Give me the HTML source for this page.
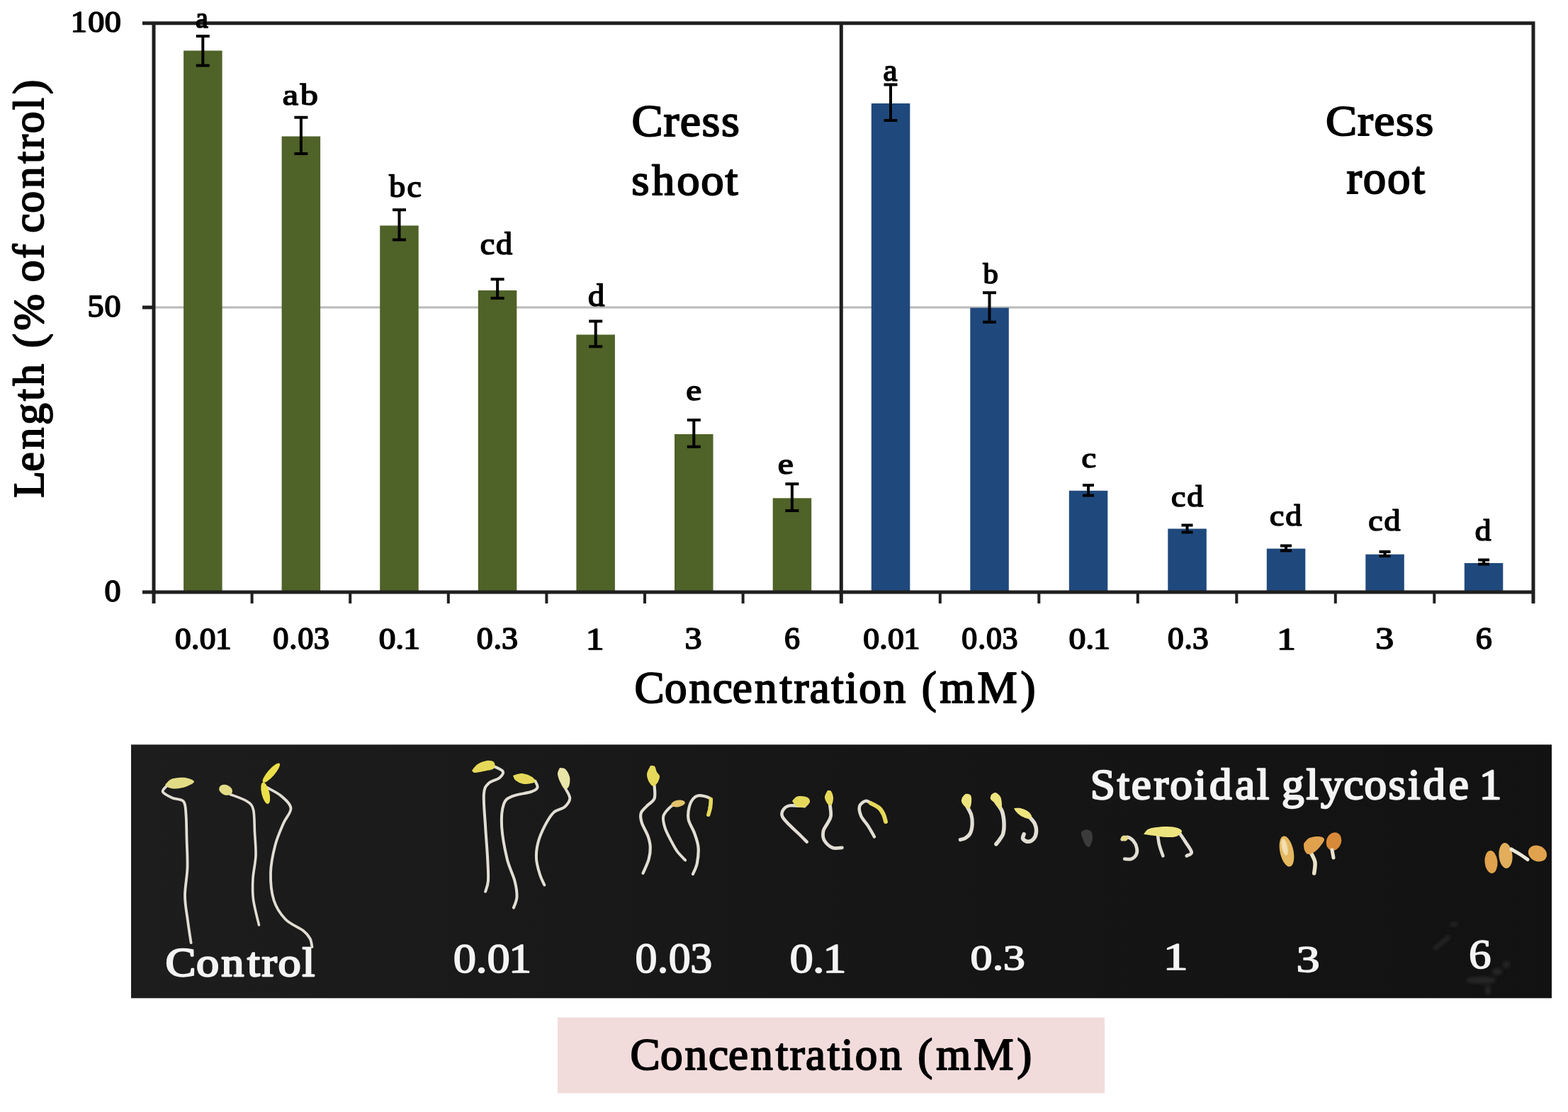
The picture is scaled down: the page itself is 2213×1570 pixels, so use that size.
<!DOCTYPE html>
<html><head><meta charset="utf-8"><title>Figure</title><style>html,body{margin:0;padding:0;background:#fff;overflow:hidden}svg{display:block}</style></head><body>
<svg width="2213" height="1570" viewBox="0 0 2213 1570"><rect width="2213" height="1570" fill="#fff"/><g font-family='"Liberation Serif", serif' font-weight="normal" font-size="100" stroke-linejoin="round"><line x1="217.0" y1="434" x2="2163" y2="434" stroke="#bababa" stroke-width="3"/>
<rect x="259.1" y="71.5" width="54.5" height="764.5" fill="#4F6228"/>
<rect x="397.6" y="192.5" width="54.5" height="643.5" fill="#4F6228"/>
<rect x="536.2" y="318.5" width="54.5" height="517.5" fill="#4F6228"/>
<rect x="674.8" y="410" width="54.5" height="426.0" fill="#4F6228"/>
<rect x="813.4" y="472.5" width="54.5" height="363.5" fill="#4F6228"/>
<rect x="952.0" y="613" width="54.5" height="223.0" fill="#4F6228"/>
<rect x="1090.7" y="703.3" width="54.5" height="132.70000000000005" fill="#4F6228"/>
<rect x="1229.8" y="146" width="54.5" height="690.0" fill="#1F497D"/>
<rect x="1369.3" y="434.6" width="54.5" height="401.4" fill="#1F497D"/>
<rect x="1508.8" y="692.8" width="54.5" height="143.20000000000005" fill="#1F497D"/>
<rect x="1648.3" y="746.5" width="54.5" height="89.5" fill="#1F497D"/>
<rect x="1787.8" y="774.6" width="54.5" height="61.39999999999998" fill="#1F497D"/>
<rect x="1927.3" y="782.7" width="54.5" height="53.299999999999955" fill="#1F497D"/>
<rect x="2066.8" y="795" width="54.5" height="41.0" fill="#1F497D"/>
<path d="M286.3 51 V92.5 M276.8 51 H295.8 M276.8 92.5 H295.8" stroke="#000" stroke-width="4" fill="none"/>
<path d="M424.9 165.8 V217 M415.4 165.8 H434.4 M415.4 217 H434.4" stroke="#000" stroke-width="4" fill="none"/>
<path d="M563.5 296.2 V338.6 M554.0 296.2 H573.0 M554.0 338.6 H573.0" stroke="#000" stroke-width="4" fill="none"/>
<path d="M702.1 394.3 V421 M692.6 394.3 H711.6 M692.6 421 H711.6" stroke="#000" stroke-width="4" fill="none"/>
<path d="M840.7 453.6 V489.3 M831.2 453.6 H850.2 M831.2 489.3 H850.2" stroke="#000" stroke-width="4" fill="none"/>
<path d="M979.3 593 V630.8 M969.8 593 H988.8 M969.8 630.8 H988.8" stroke="#000" stroke-width="4" fill="none"/>
<path d="M1117.9 683.2 V721 M1108.4 683.2 H1127.4 M1108.4 721 H1127.4" stroke="#000" stroke-width="4" fill="none"/>
<path d="M1257.0 119.5 V170 M1247.5 119.5 H1266.5 M1247.5 170 H1266.5" stroke="#000" stroke-width="4" fill="none"/>
<path d="M1396.5 413.2 V454.7 M1387.0 413.2 H1406.0 M1387.0 454.7 H1406.0" stroke="#000" stroke-width="4" fill="none"/>
<path d="M1536.0 685 V699.5 M1528.0 685 H1544.0 M1528.0 699.5 H1544.0" stroke="#000" stroke-width="4" fill="none"/>
<path d="M1675.5 741.5 V751.5 M1667.5 741.5 H1683.5 M1667.5 751.5 H1683.5" stroke="#000" stroke-width="4" fill="none"/>
<path d="M1815.0 770.5 V777.5 M1807.0 770.5 H1823.0 M1807.0 777.5 H1823.0" stroke="#000" stroke-width="4" fill="none"/>
<path d="M1954.5 779 V785 M1946.5 779 H1962.5 M1946.5 785 H1962.5" stroke="#000" stroke-width="4" fill="none"/>
<path d="M2094.1 790.5 V796.5 M2086.1 790.5 H2102.1 M2086.1 796.5 H2102.1" stroke="#000" stroke-width="4" fill="none"/>
<path d="M201 32.8 H2166.2 M217 30.6 V852 M1187.3 32.8 V852 M2164 30.6 V852 M201 836 H2166.2 M201 434 H217" stroke="#1f1f1f" stroke-width="5" fill="none"/>
<path d="M355.6 836 V852 M494.2 836 V852 M632.8 836 V852 M771.4 836 V852 M910.0 836 V852 M1048.6 836 V852 M1326.8 836 V852 M1466.3 836 V852 M1605.8 836 V852 M1745.3 836 V852 M1884.8 836 V852 M2024.3 836 V852 " stroke="#1f1f1f" stroke-width="4" fill="none"/>
<defs><linearGradient id="pg" x1="0" y1="0" x2="1" y2="0"><stop offset="0" stop-color="#1d1d1d"/><stop offset="0.45" stop-color="#171717"/><stop offset="1" stop-color="#121212"/></linearGradient></defs>
<rect x="185" y="1051.3" width="2005" height="358" fill="url(#pg)"/>
<defs><filter id="sb" x="-5%" y="-5%" width="110%" height="110%"><feGaussianBlur stdDeviation="0.7"/></filter><filter id="sm" x="-50%" y="-50%" width="200%" height="200%"><feGaussianBlur stdDeviation="2.5"/></filter></defs>
<g filter="url(#sb)">
<g fill="#3a3a3a" opacity="0.55" filter="url(#sm)">
<path d="M2022 1338 L2044 1320 L2048 1324 L2026 1342 Z"/>
<ellipse cx="2052" cy="1305" rx="6" ry="3"/>
<ellipse cx="2090" cy="1384" rx="22" ry="5"/>
<ellipse cx="2126" cy="1362" rx="5" ry="5"/>
<ellipse cx="2113" cy="1372" rx="7" ry="5"/>
<ellipse cx="2100" cy="1398" rx="4" ry="7"/>
</g>
<path d="M235.0 1110.0 C234.1 1111.3 228.5 1115.2 229.8 1118.0 C231.1 1120.8 238.1 1124.2 243.0 1126.5 C247.9 1128.8 255.8 1127.6 259.0 1131.5 C262.2 1135.4 261.8 1141.4 262.5 1150.0 C263.2 1158.6 263.2 1170.5 263.5 1183.0 C263.8 1195.5 264.9 1211.3 264.5 1225.0 C264.1 1238.7 260.9 1252.5 261.0 1265.0 C261.1 1277.5 263.6 1289.0 265.0 1300.0 C266.4 1311.0 268.8 1325.8 269.6 1331.0" fill="none" stroke="#e2ded4" stroke-width="3.8" stroke-linecap="round" stroke-linejoin="round"/>
<path d="M233.0 1108.0 C234.2 1106.8 237.5 1102.6 240.0 1101.0 C242.5 1099.4 244.3 1099.0 248.0 1098.5 C251.7 1098.0 257.7 1097.2 262.0 1098.0 C266.3 1098.8 273.8 1101.4 274.0 1103.5 C274.2 1105.6 267.3 1108.8 263.0 1110.5 C258.7 1112.2 252.2 1113.2 248.0 1113.5 C243.8 1113.8 240.5 1112.9 238.0 1112.0 C235.5 1111.1 233.8 1108.7 233.0 1108.0 Z" fill="#e3dc86"/>
<path d="M325.0 1121.5 C328.8 1123.1 342.6 1127.4 348.0 1131.0 C353.4 1134.6 355.6 1135.7 357.5 1143.0 C359.4 1150.3 358.9 1164.2 359.5 1175.0 C360.1 1185.8 361.4 1197.2 361.0 1208.0 C360.6 1218.8 357.6 1229.7 357.0 1240.0 C356.4 1250.3 356.1 1259.0 357.5 1270.0 C358.9 1281.0 364.2 1300.0 365.5 1306.0" fill="none" stroke="#e2ded4" stroke-width="3.6" stroke-linecap="round" stroke-linejoin="round"/>
<ellipse cx="318.6" cy="1115.3" rx="9.8" ry="7.1" transform="rotate(22 318.6 1115.3)" fill="#e3dc86"/>
<path d="M377.0 1112.0 C380.2 1113.9 390.9 1118.7 396.5 1123.5 C402.1 1128.3 409.9 1134.5 410.5 1141.0 C411.1 1147.5 403.7 1153.8 400.0 1162.5 C396.3 1171.2 391.5 1181.4 388.5 1193.0 C385.5 1204.6 382.3 1219.0 382.0 1232.0 C381.7 1245.0 383.0 1260.0 386.5 1271.0 C390.0 1282.0 396.1 1290.8 403.0 1298.0 C409.9 1305.2 422.2 1309.5 428.0 1314.0 C433.8 1318.5 435.4 1321.2 437.5 1325.0 C439.6 1328.8 440.0 1335.0 440.5 1337.0" fill="none" stroke="#e2ded4" stroke-width="3.8" stroke-linecap="round" stroke-linejoin="round"/>
<ellipse cx="382.8" cy="1091.2" rx="17.7" ry="5" transform="rotate(-49 382.8 1091.2)" fill="#ebe04a"/>
<ellipse cx="374.7" cy="1119.8" rx="15.6" ry="5.5" transform="rotate(76.5 374.7 1119.8)" fill="#ebe04a"/>
<path d="M695.8 1081.4 C698.1 1082.7 708.1 1086.2 709.6 1089.0 C711.1 1091.8 708.3 1095.4 705.0 1098.2 C701.7 1101.0 693.4 1102.0 689.7 1105.8 C686.0 1109.6 683.7 1110.9 682.9 1121.1 C682.1 1131.3 684.2 1151.7 685.1 1167.0 C686.0 1182.3 687.6 1200.1 688.2 1212.8 C688.9 1225.5 689.5 1235.8 689.0 1243.4 C688.5 1251.1 685.8 1256.2 685.1 1258.7" fill="none" stroke="#e2ded4" stroke-width="4" stroke-linecap="round" stroke-linejoin="round"/>
<path d="M666.0 1088.0 C667.3 1086.5 670.5 1081.3 674.0 1079.0 C677.5 1076.7 683.2 1074.5 687.0 1074.0 C690.8 1073.5 695.3 1074.2 697.0 1076.0 C698.7 1077.8 699.5 1082.8 697.0 1085.0 C694.5 1087.2 686.5 1088.0 682.0 1089.0 C677.5 1090.0 672.7 1091.2 670.0 1091.0 C667.3 1090.8 666.7 1088.5 666.0 1088.0 Z" fill="#e6d95a"/>
<path d="M755.4 1102.8 C755.9 1104.3 759.5 1109.5 758.5 1112.0 C757.5 1114.5 755.2 1116.0 749.3 1118.0 C743.4 1120.0 729.7 1121.4 723.3 1124.2 C716.9 1127.0 713.6 1127.8 711.1 1134.9 C708.6 1142.0 707.3 1154.0 708.1 1167.0 C708.9 1180.0 712.7 1200.1 715.7 1212.8 C718.8 1225.5 724.1 1234.5 726.4 1243.4 C728.7 1252.3 729.8 1259.9 729.5 1266.3 C729.2 1272.7 725.7 1279.0 724.9 1281.6" fill="none" stroke="#e2ded4" stroke-width="4" stroke-linecap="round" stroke-linejoin="round"/>
<path d="M724.0 1095.0 C726.2 1094.5 732.5 1091.7 737.0 1092.0 C741.5 1092.3 748.0 1095.0 751.0 1097.0 C754.0 1099.0 756.8 1102.3 755.0 1104.0 C753.2 1105.7 744.5 1107.3 740.0 1107.0 C735.5 1106.7 730.7 1104.0 728.0 1102.0 C725.3 1100.0 724.7 1096.2 724.0 1095.0 Z" fill="#e6d95a"/>
<path d="M798.2 1113.5 C799.2 1115.8 804.5 1122.9 804.3 1127.2 C804.0 1131.5 800.5 1136.2 796.7 1139.5 C792.9 1142.8 786.0 1142.8 781.4 1147.1 C776.8 1151.4 772.9 1158.3 769.2 1165.4 C765.5 1172.5 761.3 1182.0 759.3 1189.9 C757.3 1197.8 756.5 1205.2 757.0 1212.8 C757.5 1220.4 760.4 1229.6 762.3 1235.7 C764.2 1241.8 767.4 1247.2 768.4 1249.5" fill="none" stroke="#e2ded4" stroke-width="4" stroke-linecap="round" stroke-linejoin="round"/>
<path d="M790.0 1084.0 C791.3 1084.3 795.7 1083.8 798.0 1086.0 C800.3 1088.2 803.2 1093.0 804.0 1097.0 C804.8 1101.0 804.2 1107.2 803.0 1110.0 C801.8 1112.8 799.0 1114.8 797.0 1114.0 C795.0 1113.2 792.7 1108.5 791.0 1105.0 C789.3 1101.5 787.2 1096.5 787.0 1093.0 C786.8 1089.5 789.5 1085.5 790.0 1084.0 Z" fill="#e9e4a8"/>
<path d="M923.6 1109.0 C923.6 1112.0 925.3 1122.5 923.6 1127.3 C921.9 1132.1 916.4 1134.2 913.3 1137.7 C910.1 1141.2 906.0 1144.0 904.7 1148.0 C903.5 1152.0 904.2 1156.4 905.8 1161.7 C907.4 1167.0 912.4 1174.4 914.4 1180.1 C916.4 1185.8 917.6 1190.6 917.8 1196.1 C918.0 1201.6 917.3 1207.2 915.6 1213.3 C913.9 1219.4 908.9 1229.5 907.5 1232.8" fill="none" stroke="#e2ded4" stroke-width="4.2" stroke-linecap="round" stroke-linejoin="round"/>
<path d="M918.0 1081.0 C919.0 1081.2 922.5 1080.5 924.0 1082.0 C925.5 1083.5 925.8 1087.7 927.0 1090.0 C928.2 1092.3 930.8 1093.5 931.0 1096.0 C931.2 1098.5 929.5 1102.7 928.0 1105.0 C926.5 1107.3 924.0 1110.2 922.0 1110.0 C920.0 1109.8 917.5 1106.8 916.0 1104.0 C914.5 1101.2 912.7 1096.8 913.0 1093.0 C913.3 1089.2 917.2 1083.0 918.0 1081.0 Z" fill="#e6d95a"/>
<path d="M954.5 1133.0 C952.8 1134.3 947.2 1137.8 944.2 1141.1 C941.2 1144.4 937.2 1148.0 936.2 1152.6 C935.2 1157.2 936.8 1163.1 938.5 1168.6 C940.2 1174.1 943.6 1180.2 946.5 1185.8 C949.4 1191.3 952.2 1197.1 955.7 1201.9 C959.2 1206.7 965.3 1212.4 967.2 1214.5" fill="none" stroke="#e2ded4" stroke-width="4" stroke-linecap="round" stroke-linejoin="round"/>
<ellipse cx="957" cy="1134.5" rx="10" ry="4.8" transform="rotate(-10 957 1134.5)" fill="#e3c36a"/>
<path d="M978.0 1234.0 C979.0 1231.5 982.5 1225.4 983.8 1219.1 C985.0 1212.8 986.2 1203.4 985.5 1196.1 C984.8 1188.8 982.1 1182.0 979.8 1175.5 C977.5 1169.0 972.9 1163.3 971.7 1157.2 C970.6 1151.1 971.5 1144.0 972.9 1138.8 C974.2 1133.6 976.9 1128.8 979.8 1126.2 C982.7 1123.6 986.2 1122.9 990.1 1123.3 C994.0 1123.7 1001.4 1125.7 1003.3 1128.5 C1005.2 1131.3 1001.8 1138.1 1001.5 1140.0" fill="none" stroke="#e2ded4" stroke-width="4.2" stroke-linecap="round" stroke-linejoin="round"/>
<path d="M1003.3 1128.5 C1003.2 1130.4 1003.1 1136.4 1002.5 1140.0 C1001.9 1143.6 1000.2 1148.6 999.8 1150.3" fill="none" stroke="#e6d95a" stroke-width="5.5" stroke-linecap="round" stroke-linejoin="round"/>
<path d="M1135.5 1138.2 C1132.0 1138.1 1119.5 1136.5 1114.4 1137.4 C1109.3 1138.4 1106.7 1141.3 1105.0 1143.9 C1103.3 1146.5 1102.9 1149.7 1104.2 1152.9 C1105.5 1156.2 1109.1 1159.5 1112.8 1163.4 C1116.5 1167.3 1122.3 1172.3 1126.6 1176.5 C1130.9 1180.7 1136.8 1186.7 1138.8 1188.7" fill="none" stroke="#e2ded4" stroke-width="4.5" stroke-linecap="round" stroke-linejoin="round"/>
<path d="M1118.0 1131.0 C1119.0 1130.0 1121.8 1126.2 1124.0 1125.0 C1126.2 1123.8 1128.3 1123.8 1131.0 1124.0 C1133.7 1124.2 1138.0 1124.7 1140.0 1126.0 C1142.0 1127.3 1143.5 1129.8 1143.0 1132.0 C1142.5 1134.2 1140.0 1137.8 1137.0 1139.0 C1134.0 1140.2 1128.2 1140.3 1125.0 1139.0 C1121.8 1137.7 1119.2 1132.3 1118.0 1131.0 Z" fill="#e6d95a"/>
<path d="M1171.3 1135.8 C1171.5 1138.5 1173.3 1147.5 1172.6 1152.1 C1171.9 1156.7 1169.1 1159.9 1167.3 1163.4 C1165.5 1166.9 1162.7 1169.4 1162.0 1173.2 C1161.3 1177.0 1161.1 1182.3 1163.2 1186.2 C1165.3 1190.1 1170.4 1195.0 1174.6 1196.8 C1178.8 1198.6 1186.1 1196.8 1188.4 1196.8" fill="none" stroke="#e2ded4" stroke-width="4.8" stroke-linecap="round" stroke-linejoin="round"/>
<path d="M1168.0 1116.0 C1168.8 1116.2 1171.7 1115.3 1173.0 1117.0 C1174.3 1118.7 1175.8 1122.8 1176.0 1126.0 C1176.2 1129.2 1175.2 1134.3 1174.0 1136.0 C1172.8 1137.7 1170.7 1137.7 1169.0 1136.0 C1167.3 1134.3 1164.2 1129.3 1164.0 1126.0 C1163.8 1122.7 1167.3 1117.7 1168.0 1116.0 Z" fill="#e6d95a"/>
<path d="M1234.0 1181.3 C1232.5 1178.7 1228.1 1170.8 1225.0 1165.9 C1221.9 1161.0 1217.3 1156.7 1215.3 1152.1 C1213.3 1147.5 1212.1 1141.7 1213.2 1138.2 C1214.3 1134.7 1218.9 1131.4 1221.8 1130.9 C1224.7 1130.4 1229.2 1134.3 1230.7 1135.0" fill="none" stroke="#e2ded4" stroke-width="4.5" stroke-linecap="round" stroke-linejoin="round"/>
<path d="M1229.0 1134.0 C1231.0 1135.2 1238.0 1138.3 1241.0 1141.0 C1244.0 1143.7 1245.5 1146.8 1247.0 1150.0 C1248.5 1153.2 1249.5 1158.3 1250.0 1160.0" fill="none" stroke="#e6d95a" stroke-width="6" stroke-linecap="round" stroke-linejoin="round"/>
<path d="M1365.2 1139.2 C1366.1 1141.1 1369.6 1146.5 1370.8 1150.5 C1372.0 1154.5 1372.4 1158.8 1372.2 1163.1 C1372.0 1167.4 1371.0 1173.0 1369.4 1176.4 C1367.8 1179.8 1364.7 1181.9 1362.4 1183.4 C1360.1 1184.9 1356.6 1185.2 1355.4 1185.5" fill="none" stroke="#e2ded4" stroke-width="5.2" stroke-linecap="round" stroke-linejoin="round"/>
<path d="M1358.0 1126.0 C1358.8 1125.2 1361.0 1121.5 1363.0 1121.0 C1365.0 1120.5 1368.7 1121.0 1370.0 1123.0 C1371.3 1125.0 1371.3 1129.8 1371.0 1133.0 C1370.7 1136.2 1369.5 1141.0 1368.0 1142.0 C1366.5 1143.0 1363.8 1140.7 1362.0 1139.0 C1360.2 1137.3 1357.7 1134.2 1357.0 1132.0 C1356.3 1129.8 1357.8 1127.0 1358.0 1126.0 Z" fill="#eee47e"/>
<path d="M1406.6 1133.6 C1407.9 1135.6 1412.5 1140.6 1414.3 1145.5 C1416.0 1150.4 1416.9 1157.8 1417.1 1163.1 C1417.3 1168.4 1416.8 1173.4 1415.7 1177.1 C1414.7 1180.8 1412.4 1183.0 1410.8 1185.5 C1409.2 1188.0 1406.7 1190.8 1405.9 1191.8" fill="none" stroke="#e2ded4" stroke-width="5.5" stroke-linecap="round" stroke-linejoin="round"/>
<path d="M1399.0 1122.0 C1400.0 1121.5 1402.8 1118.5 1405.0 1119.0 C1407.2 1119.5 1410.5 1122.2 1412.0 1125.0 C1413.5 1127.8 1414.0 1133.0 1414.0 1136.0 C1414.0 1139.0 1413.7 1143.3 1412.0 1143.0 C1410.3 1142.7 1406.3 1136.5 1404.0 1134.0 C1401.7 1131.5 1398.8 1130.0 1398.0 1128.0 C1397.2 1126.0 1398.8 1123.0 1399.0 1122.0 Z" fill="#eee47e"/>
<path d="M1453.5 1154.0 C1454.7 1155.5 1459.0 1159.8 1460.5 1163.1 C1462.0 1166.4 1462.8 1170.1 1462.6 1173.6 C1462.4 1177.1 1461.1 1181.6 1459.1 1184.1 C1457.1 1186.5 1453.3 1188.3 1450.7 1188.3 C1448.1 1188.3 1444.6 1185.8 1443.7 1184.1 C1442.8 1182.3 1444.9 1178.8 1445.1 1177.8" fill="none" stroke="#e2ded4" stroke-width="5.5" stroke-linecap="round" stroke-linejoin="round"/>
<path d="M1431.0 1141.0 C1432.5 1141.0 1436.8 1140.3 1440.0 1141.0 C1443.2 1141.7 1447.3 1143.2 1450.0 1145.0 C1452.7 1146.8 1455.7 1150.2 1456.0 1152.0 C1456.3 1153.8 1454.5 1156.0 1452.0 1156.0 C1449.5 1156.0 1444.0 1153.7 1441.0 1152.0 C1438.0 1150.3 1435.7 1147.8 1434.0 1146.0 C1432.3 1144.2 1431.5 1141.8 1431.0 1141.0 Z" fill="#eee47e"/>
<path d="M1533.0 1171.0 C1534.2 1171.5 1538.5 1171.8 1540.0 1174.0 C1541.5 1176.2 1542.3 1180.5 1542.0 1184.0 C1541.7 1187.5 1539.5 1193.3 1538.0 1195.0 C1536.5 1196.7 1534.7 1195.8 1533.0 1194.0 C1531.3 1192.2 1529.2 1187.2 1528.0 1184.0 C1526.8 1180.8 1525.2 1177.2 1526.0 1175.0 C1526.8 1172.8 1531.8 1171.7 1533.0 1171.0 Z" fill="#3a3a3a"/>
<path d="M1583.8 1185.2 C1585.0 1184.6 1588.1 1181.5 1590.7 1181.8 C1593.3 1182.1 1597.0 1184.3 1599.3 1186.9 C1601.6 1189.5 1603.7 1193.9 1604.4 1197.2 C1605.1 1200.5 1604.9 1204.1 1603.6 1206.7 C1602.3 1209.3 1599.4 1211.7 1596.7 1212.7 C1594.0 1213.7 1588.9 1212.7 1587.3 1212.7" fill="none" stroke="#e2ded4" stroke-width="4.8" stroke-linecap="round" stroke-linejoin="round"/>
<ellipse cx="1587" cy="1183.5" rx="5" ry="4" transform="rotate(0 1587 1183.5)" fill="#e6dc88"/>
<path d="M1633.6 1175.8 C1634.0 1178.7 1634.9 1187.5 1636.2 1192.9 C1637.5 1198.3 1640.5 1205.8 1641.4 1208.4" fill="none" stroke="#e2ded4" stroke-width="4.5" stroke-linecap="round" stroke-linejoin="round"/>
<path d="M1664.5 1175.8 C1665.9 1177.9 1670.2 1184.0 1673.1 1188.6 C1676.0 1193.2 1681.4 1199.9 1681.7 1203.2 C1682.0 1206.5 1676.0 1207.5 1674.8 1208.4" fill="none" stroke="#e2ded4" stroke-width="4.8" stroke-linecap="round" stroke-linejoin="round"/>
<path d="M1614.0 1178.0 C1615.0 1176.8 1617.0 1172.7 1620.0 1171.0 C1623.0 1169.3 1627.3 1168.7 1632.0 1168.0 C1636.7 1167.3 1643.0 1166.8 1648.0 1167.0 C1653.0 1167.2 1658.7 1167.8 1662.0 1169.0 C1665.3 1170.2 1668.3 1172.0 1668.0 1174.0 C1667.7 1176.0 1663.7 1179.7 1660.0 1181.0 C1656.3 1182.3 1651.0 1182.2 1646.0 1182.0 C1641.0 1181.8 1635.3 1180.7 1630.0 1180.0 C1624.7 1179.3 1616.7 1178.3 1614.0 1178.0 Z" fill="#eee47e"/>
<ellipse cx="1816" cy="1202" rx="9.5" ry="22" transform="rotate(-12 1816 1202)" fill="#e5b860"/>
<ellipse cx="1813" cy="1196" rx="4" ry="12" transform="rotate(-12 1813 1196)" fill="#f0dfb0"/>
<path d="M1849.6 1203.0 C1850.6 1205.3 1855.1 1212.0 1855.9 1217.0 C1856.8 1222.0 1854.9 1230.3 1854.7 1233.0" fill="none" stroke="#e8e2c8" stroke-width="5.5" stroke-linecap="round" stroke-linejoin="round"/>
<path d="M1840.0 1191.0 C1841.3 1189.7 1844.3 1184.7 1848.0 1183.0 C1851.7 1181.3 1858.5 1180.7 1862.0 1181.0 C1865.5 1181.3 1868.7 1182.8 1869.0 1185.0 C1869.3 1187.2 1866.3 1191.0 1864.0 1194.0 C1861.7 1197.0 1858.0 1201.0 1855.0 1203.0 C1852.0 1205.0 1848.3 1206.5 1846.0 1206.0 C1843.7 1205.5 1842.0 1202.5 1841.0 1200.0 C1840.0 1197.5 1840.2 1192.5 1840.0 1191.0 Z" fill="#e0a24e"/>
<ellipse cx="1882.5" cy="1188" rx="10.5" ry="13" transform="rotate(20 1882.5 1188)" fill="#d98a38"/>
<path d="M1880.0 1200.0 C1880.3 1201.8 1881.7 1209.2 1882.0 1211.0" fill="none" stroke="#e8e2d0" stroke-width="5" stroke-linecap="round" stroke-linejoin="round"/>
<ellipse cx="2104.5" cy="1217" rx="9" ry="16" transform="rotate(-5 2104.5 1217)" fill="#e0a24e"/>
<ellipse cx="2125" cy="1208" rx="9.5" ry="18" transform="rotate(-5 2125 1208)" fill="#e2ae5c"/>
<path d="M2133.0 1199.0 C2135.0 1200.2 2141.2 1203.6 2145.0 1206.0 C2148.8 1208.4 2154.2 1212.2 2156.0 1213.5" fill="none" stroke="#ece8d8" stroke-width="5" stroke-linecap="round" stroke-linejoin="round"/>
<ellipse cx="2170" cy="1205" rx="13.5" ry="11" transform="rotate(25 2170 1205)" fill="#e0a24e"/>
</g>
<rect x="787" y="1436.5" width="772" height="107" fill="#F2DCDB"/>
<text x="-1.4 51.6 102.7" transform="matrix(0.46127 0 0 0.42059 100.37 44.96)" fill="#000" stroke="#000" stroke-width="4.087">100</text>
<text x="0.9 53.5" transform="matrix(0.46022 0 0 0.43881 122.98 447.02)" fill="#000" stroke="#000" stroke-width="4.005">50</text>
<text transform="matrix(0.45952 0 0 0.43731 147.56 849.33)" fill="#000" stroke="#000" stroke-width="4.015">0</text>
<text transform="matrix(0.40000 0 0 0.40833 275.95 38.74)" fill="#000" stroke="#000" stroke-width="4.206">a</text>
<text x="1.1 50.5" transform="matrix(0.50326 0 0 0.42143 398.33 147.73)" fill="#000" stroke="#000" stroke-width="3.691">ab</text>
<text x="4.9 60.1" transform="matrix(0.45729 0 0 0.44000 546.96 278.21)" fill="#000" stroke="#000" stroke-width="3.790">bc</text>
<text x="-0.3 48.2" transform="matrix(0.46129 0 0 0.43857 677.80 358.51)" fill="#000" stroke="#000" stroke-width="3.780">cd</text>
<text transform="matrix(0.46444 0 0 0.43714 829.99 432.21)" fill="#000" stroke="#000" stroke-width="3.773">d</text>
<text transform="matrix(0.49730 0 0 0.42917 968.36 564.92)" fill="#000" stroke="#000" stroke-width="3.680">e</text>
<text transform="matrix(0.50000 0 0 0.43125 1097.65 668.72)" fill="#000" stroke="#000" stroke-width="3.661">e</text>
<text transform="matrix(0.45128 0 0 0.43333 1246.54 114.22)" fill="#000" stroke="#000" stroke-width="3.844">a</text>
<text transform="matrix(0.42609 0 0 0.39714 1387.55 399.95)" fill="#000" stroke="#000" stroke-width="4.133">b</text>
<text transform="matrix(0.46486 0 0 0.39167 1526.49 659.86)" fill="#000" stroke="#000" stroke-width="3.984">c</text>
<text x="-0.3 48.3" transform="matrix(0.45806 0 0 0.42714 1653.02 715.22)" fill="#000" stroke="#000" stroke-width="3.843">cd</text>
<text x="-0.3 48.3" transform="matrix(0.45806 0 0 0.42857 1792.22 742.12)" fill="#000" stroke="#000" stroke-width="3.837">cd</text>
<text x="-0.3 48.3" transform="matrix(0.45806 0 0 0.41286 1931.42 749.04)" fill="#000" stroke="#000" stroke-width="3.909">cd</text>
<text transform="matrix(0.45333 0 0 0.42857 2081.74 762.72)" fill="#000" stroke="#000" stroke-width="3.857">d</text>
<text x="0.6 51.3 77.2 126.3" transform="matrix(0.45422 0 0 0.42941 246.68 915.74)" fill="#000" stroke="#000" stroke-width="4.076">0.01</text>
<text x="1.4 53.4 80.5 131.6" transform="matrix(0.44277 0 0 0.43582 384.59 915.73)" fill="#000" stroke="#000" stroke-width="4.098">0.03</text>
<text x="-0.0 49.8 72.8" transform="matrix(0.47345 0 0 0.42941 534.71 915.74)" fill="#000" stroke="#000" stroke-width="3.992">0.1</text>
<text x="1.2 52.8 77.9" transform="matrix(0.45966 0 0 0.43582 672.30 915.73)" fill="#000" stroke="#000" stroke-width="4.022">0.3</text>
<text transform="matrix(0.51429 0 0 0.44242 826.77 916.60)" fill="#000" stroke="#000" stroke-width="3.774">1</text>
<text transform="matrix(0.48049 0 0 0.44242 966.50 916.16)" fill="#000" stroke="#000" stroke-width="3.904">3</text>
<text transform="matrix(0.43953 0 0 0.43582 1106.94 915.73)" fill="#000" stroke="#000" stroke-width="4.113">6</text>
<text x="0.6 51.3 77.1 126.2" transform="matrix(0.45723 0 0 0.42941 1217.87 915.74)" fill="#000" stroke="#000" stroke-width="4.062">0.01</text>
<text x="1.4 53.4 80.6 131.8" transform="matrix(0.43873 0 0 0.43582 1356.71 915.73)" fill="#000" stroke="#000" stroke-width="4.116">0.03</text>
<text x="-0.0 49.8 72.7" transform="matrix(0.47788 0 0 0.42941 1508.39 915.74)" fill="#000" stroke="#000" stroke-width="3.974">0.1</text>
<text x="1.2 52.9 78.1" transform="matrix(0.45378 0 0 0.43582 1647.53 915.73)" fill="#000" stroke="#000" stroke-width="4.048">0.3</text>
<text transform="matrix(0.53714 0 0 0.44242 1802.07 916.60)" fill="#000" stroke="#000" stroke-width="3.692">1</text>
<text transform="matrix(0.51707 0 0 0.44242 1941.31 916.16)" fill="#000" stroke="#000" stroke-width="3.763">3</text>
<text transform="matrix(0.46047 0 0 0.43582 2082.66 915.73)" fill="#000" stroke="#000" stroke-width="4.018">6</text>
<text x="2.2 69.3 123.9 176.8 221.2 270.5 326.9 358.6 393.9 442.1 472.9 503.9 558.5 612.7 644.1 685.1 769.0 865.6" transform="matrix(0.63108 0 0 0.63043 894.21 992.40)" fill="#000" stroke="#000" stroke-width="3.171">Concentration (mM)</text>
<text x="1.9 69.9 105.0 151.7 193.2" transform="matrix(0.66099 0 0 0.63284 890.33 192.13)" fill="#000" stroke="#000" stroke-width="3.092">Cress</text>
<text x="1.2 45.6 100.3 152.5 205.8" transform="matrix(0.64693 0 0 0.61286 890.47 275.09)" fill="#000" stroke="#000" stroke-width="3.176">shoot</text>
<text x="1.9 69.9 105.0 151.7 193.2" transform="matrix(0.66143 0 0 0.61642 1869.73 190.57)" fill="#000" stroke="#000" stroke-width="3.132">Cress</text>
<text x="2.7 38.6 91.5 145.3" transform="matrix(0.64910 0 0 0.65965 1898.65 272.94)" fill="#000" stroke="#000" stroke-width="3.056">root</text>
<text x="2.5 70.0 125.0 181.8 213.7 249.5 302.1" transform="matrix(0.64393 0 0 0.56761 231.89 1378.16)" fill="#f4f4f4" stroke="#f4f4f4" stroke-width="3.970">Control</text>
<text x="-0.3 49.0 73.5 120.8" transform="matrix(0.64596 0 0 0.59853 639.97 1373.35)" fill="#f4f4f4" stroke="#f4f4f4" stroke-width="2.734">0.01</text>
<text x="0.5 51.1 76.9 126.3" transform="matrix(0.61905 0 0 0.60746 896.17 1373.34)" fill="#f4f4f4" stroke="#f4f4f4" stroke-width="2.772">0.03</text>
<text x="-1.0 47.5 69.1" transform="matrix(0.66818 0 0 0.59853 1115.15 1373.35)" fill="#f4f4f4" stroke="#f4f4f4" stroke-width="2.688">0.1</text>
<text x="0.3 50.6 74.5" transform="matrix(0.62137 0 0 0.51194 1369.36 1369.13)" fill="#f4f4f4" stroke="#f4f4f4" stroke-width="3.014">0.3</text>
<text transform="matrix(0.70857 0 0 0.54091 1641.47 1369.15)" fill="#f4f4f4" stroke="#f4f4f4" stroke-width="2.746">1</text>
<text transform="matrix(0.66341 0 0 0.51970 1829.53 1372.03)" fill="#f4f4f4" stroke="#f4f4f4" stroke-width="2.895">3</text>
<text transform="matrix(0.63023 0 0 0.58358 2072.93 1366.58)" fill="#f4f4f4" stroke="#f4f4f4" stroke-width="2.803">6</text>
<text x="1.8 62.0 93.6 143.3 179.9 234.0 268.0 325.3 373.6 404.3 429.6 484.2 516.4 568.1 613.9 667.7 711.1 745.1 802.6 849.1 870.7" transform="matrix(0.63186 0 0 0.60725 1537.65 1128.40)" fill="#f4f4f4" stroke="#f4f4f4" stroke-width="3.875">Steroidal glycoside 1</text>
<text x="2.2 69.3 123.9 176.8 221.2 270.5 326.9 358.6 393.8 442.1 472.9 503.9 558.4 612.6 644.0 685.1 768.9 865.5" transform="matrix(0.63209 0 0 0.62319 888.21 1509.50)" fill="#000" stroke="#000" stroke-width="3.187">Concentration (mM)</text>
<text x="0.8 60.8 111.3 167.1 222.5 256.7 311.0 343.6 383.7 468.3 494.3 547.9 583.6 607.0 652.5 708.4 765.9 798.5 834.9 888.2 924.4" transform="matrix(0 -0.61686 0.60845 0 60.50 703.17)" fill="#000" stroke="#000" stroke-width="3.265">Length (% of control)</text></g></svg>
</body></html>
